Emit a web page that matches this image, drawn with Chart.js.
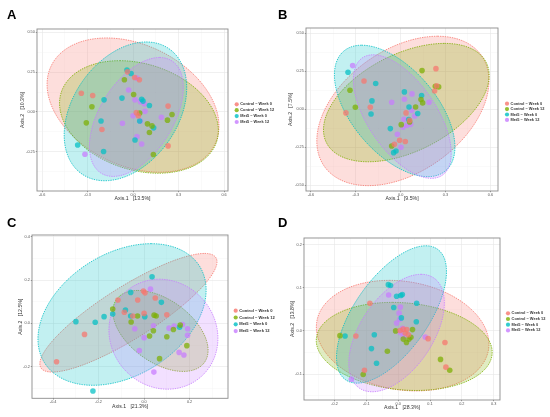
<!DOCTYPE html>
<html>
<head>
<meta charset="utf-8">
<script src="https://cdn.jsdelivr.net/npm/chart.js@4.4.1/dist/chart.umd.min.js"></script>
<style>
  body { margin: 0; background: #fff; }
  #wrap { position: relative; width: 550px; height: 417px; overflow: hidden; background: #fff; }
  canvas { position: absolute; }
  .tag { position: absolute; z-index: 5; font: bold 13px "Liberation Sans", Arial, sans-serif; color: #000; }
</style>
</head>
<body>
<div id="wrap">
  <canvas id="plotA" width="275" height="210" style="left:0;top:0"></canvas>
  <canvas id="plotB" width="275" height="210" style="left:275px;top:0"></canvas>
  <canvas id="plotC" width="275" height="207" style="left:0;top:210px"></canvas>
  <canvas id="plotD" width="275" height="207" style="left:275px;top:210px"></canvas>
  <div class="tag" style="left:7px;top:7px">A</div>
  <div class="tag" style="left:278px;top:7px">B</div>
  <div class="tag" style="left:7px;top:215px">C</div>
  <div class="tag" style="left:278px;top:215px">D</div>
</div>
<script>
// group names (same four groups in every panel)
const GROUPS = ['Control \u2212 Week 0', 'Control \u2212 Week 12', 'Met5 \u2212 Week 0', 'Met5 \u2212 Week 12'];

// ---- panel A ----
const A_CTRL_W0 = [[-0.341,0.117],[-0.266,0.103],[-0.205,-0.109],[-0.037,0.251],[0.011,0.216],[0.042,0.202],[0.022,-0.004],[0.035,-0.023],[0.231,0.037],[0.231,-0.212]];
const A_CTRL_W12 = [[-0.057,0.202],[0.004,0.109],[-0.271,0.033],[-0.308,-0.068],[0.044,-0.006],[0.095,-0.074],[0.125,-0.087],[0.108,-0.128],[0.134,-0.266],[0.227,-0.051],[0.257,-0.016]];
const A_MET_W0 = [[-0.040,0.262],[-0.013,0.241],[-0.191,0.076],[-0.073,0.087],[0.057,0.080],[0.066,0.068],[0.108,0.041],[-0.211,-0.056],[0.136,-0.099],[0.013,-0.175],[-0.194,-0.247],[-0.365,-0.206],[0.044,-0.056]];
const A_MET_W12 = [[0.026,0.212],[-0.029,0.138],[0.013,0.076],[0.048,0.064],[0.075,0.051],[0.079,0.004],[0.0,-0.023],[-0.070,-0.070],[0.026,-0.154],[0.057,-0.200],[0.187,-0.033],[-0.317,-0.264],[0.048,-0.056]];
// ellipse per group: [centre x, centre y, half-axis to the top point (dx, dy), horizontal half-chord (dx, dy)]
const A_ELLIPSES = [
  [0.000, 0.043, -0.175, 0.420, 0.539, 0],
  [0.039, -0.031, -0.127, 0.352, 0.508, 0],
  [-0.050, 0.004, 0.137, 0.434, 0.380, 0],
  [0.022, -0.031, 0.153, 0.372, 0.269, 0]
];
const A_XTICKS = [-0.6, -0.3, 0.0, 0.3, 0.6];
const A_YTICKS = [-0.25, 0.0, 0.25, 0.5];
const A_XTITLE = 'Axis.1   [13.5%]';
const A_YTITLE = 'Axis.2   [10.3%]';

// ---- panel B ----
const B_CTRL_W0 = [[-0.366,-0.024],[-0.245,0.186],[-0.203,0.013],[0.236,0.267],[0.227,0.120],[0.241,0.155],[0.036,-0.024],[-0.042,-0.230],[-0.007,-0.204],[0.031,-0.212],[0.060,-0.072]];
const B_CTRL_W12 = [[-0.339,0.125],[-0.303,0.013],[0.143,0.254],[0.232,0.151],[0.254,0.147],[0.136,0.064],[0.147,0.042],[0.100,0.015],[0.004,-0.101],[0.060,-0.083],[-0.060,-0.241]];
const B_MET_W0 = [[-0.352,0.243],[-0.167,0.169],[-0.192,0.055],[-0.198,-0.031],[0.025,0.114],[0.140,0.090],[0.056,0.015],[0.114,-0.028],[0.054,-0.068],[-0.069,-0.127],[-0.031,-0.274],[-0.047,-0.285]];
const B_MET_W12 = [[-0.321,0.287],[0.025,0.066],[0.076,0.101],[-0.060,0.046],[0.074,-0.007],[0.190,0.046],[0.022,-0.066],[0.094,-0.044],[0.042,-0.105],[0.016,-0.118],[-0.022,-0.164],[0.002,-0.250],[0.067,-0.099]];
const B_ELLIPSES = [
  [0.015, -0.011, 0.232, 0.491, 0.527, 0],
  [0.038, 0.044, 0.255, 0.389, 0.492, 0],
  [-0.040, -0.011, -0.221, 0.432, 0.337, 0],
  [0.011, -0.048, -0.195, 0.406, 0.263, 0]
];
const B_XTICKS = [-0.6, -0.3, 0.0, 0.3, 0.6];
const B_YTICKS = [-0.5, -0.25, 0.0, 0.25, 0.5];
const B_XTITLE = 'Axis.1   [9.5%]';
const B_YTITLE = 'Axis.2   [7.5%]';

// ---- panel C ----
const C_CTRL_W0 = [[-0.385,-0.177],[-0.262,-0.051],[-0.115,0.108],[-0.028,0.108],[-0.003,0.149],[0.004,0.141],[0.049,0.117],[-0.087,0.051],[-0.050,0.034],[0.0,0.046],[0.100,0.040]];
const C_CTRL_W12 = [[-0.138,0.066],[-0.057,0.006],[-0.029,0.034],[0.044,0.038],[0.053,0.034],[0.041,-0.034],[0.024,-0.058],[0.068,-0.163],[0.100,-0.062],[0.129,-0.028],[0.159,-0.008],[0.188,-0.103]];
const C_MET_W0 = [[-0.300,0.008],[-0.215,0.005],[-0.176,0.031],[-0.138,0.043],[-0.082,0.062],[-0.059,0.143],[-0.059,0.034],[0.003,0.031],[0.035,0.215],[0.076,0.097],[0.156,-0.018],[-0.225,-0.312]];
const C_MET_W12 = [[0.028,0.158],[-0.041,-0.025],[0.041,-0.011],[0.0,-0.066],[-0.021,-0.126],[0.110,-0.022],[0.132,-0.012],[0.169,-0.005],[0.191,-0.025],[0.191,-0.055],[0.154,-0.134],[0.175,-0.146],[0.043,-0.225]];
const C_ELLIPSES = [
  [-0.069, 0.049, 0.335, 0.274, 0.199, 0],
  [0.072, -0.035, -0.100, 0.187, 0.184, 0],
  [-0.097, 0.041, 0.128, 0.327, 0.347, 0],
  [0.085, -0.050, -0.018, 0.254, 0.239, 0]
];
const C_XTICKS = [-0.4, -0.2, 0.0, 0.2];
const C_YTICKS = [-0.2, 0.0, 0.2, 0.4];
const C_XTITLE = 'Axis.1   [21.3%]';
const C_YTITLE = 'Axis.2   [12.5%]';

// ---- panel D ----
const D_CTRL_W0 = [[-0.133,-0.012],[-0.089,0.064],[-0.106,-0.091],[0.006,0.001],[0.016,0.004],[0.027,0.003],[0.022,-0.005],[0.032,-0.009],[0.094,-0.018],[0.147,-0.027],[0.150,-0.084]];
const D_CTRL_W12 = [[-0.183,-0.011],[-0.008,0.0],[-0.034,-0.047],[-0.110,-0.101],[0.045,0.003],[0.040,-0.015],[0.034,-0.019],[0.026,-0.027],[0.016,-0.019],[0.133,-0.066],[0.162,-0.091]];
const D_MET_W0 = [[-0.031,0.107],[-0.024,0.105],[-0.005,0.080],[0.008,0.082],[0.013,0.084],[0.058,0.064],[-0.014,0.054],[0.010,0.030],[0.057,0.021],[-0.167,-0.012],[-0.075,-0.009],[-0.084,-0.041],[-0.068,-0.075]];
const D_MET_W12 = [[-0.030,0.083],[0.007,0.055],[0.003,0.041],[0.005,0.027],[-0.005,0.018],[0.014,0.006],[0.007,-0.004],[0.016,-0.013],[0.085,-0.014],[-0.147,-0.112]];
const D_ELLIPSES = [
  [0.014, -0.011, -0.042, 0.128, 0.268, 0],
  [0.019, -0.036, -0.037, 0.102, 0.274, 0],
  [-0.021, 0.038, 0.108, 0.159, 0.135, 0],
  [-0.005, -0.005, 0.077, 0.136, 0.129, 0]
];
const D_XTICKS = [-0.2, -0.1, 0.0, 0.1, 0.2, 0.3];
const D_YTICKS = [-0.1, 0.0, 0.1, 0.2];
const D_XTITLE = 'Axis.1   [28.3%]';
const D_YTITLE = 'Axis.2   [13.8%]';

const HUES = ['248,118,109', '124,174,0', '0,191,196', '199,124,255'];

// ellipses behind the points, frame and legend on top
const ordination = {
  id: 'ordination',
  beforeDatasetsDraw(chart, args, opts) {
    const { ctx, chartArea, scales: { x, y } } = chart;
    ctx.save();
    ctx.beginPath();
    ctx.rect(chartArea.left, chartArea.top, chartArea.width, chartArea.height);
    ctx.clip();
    opts.ellipses.forEach((e, i) => {
      const [cx, cy, ux, uy, vx, vy] = e;
      ctx.beginPath();
      for (let k = 0; k <= 90; k++) {
        const t = k / 90 * 2 * Math.PI;
        const px = x.getPixelForValue(cx + ux * Math.cos(t) + vx * Math.sin(t));
        const py = y.getPixelForValue(cy + uy * Math.cos(t) + vy * Math.sin(t));
        if (k === 0) ctx.moveTo(px, py); else ctx.lineTo(px, py);
      }
      ctx.closePath();
      ctx.fillStyle = 'rgba(' + HUES[i] + ',0.24)';
      ctx.fill();
      ctx.setLineDash([1.4, 1]);
      ctx.lineWidth = 0.8;
      ctx.strokeStyle = 'rgb(' + HUES[i] + ')';
      ctx.stroke();
    });
    ctx.restore();
  },
  afterDraw(chart, args, opts) {
    const { ctx, chartArea } = chart;
    ctx.save();
    ctx.strokeStyle = '#8c8c8c';
    ctx.lineWidth = 0.9;
    ctx.strokeRect(chartArea.left, chartArea.top, chartArea.width, chartArea.height);
    const lg = opts.legend;
    ctx.font = 'bold ' + lg.size + 'px "Liberation Sans", Arial, sans-serif';
    ctx.textBaseline = 'middle';
    GROUPS.forEach((g, i) => {
      const yy = lg.y + i * lg.gap;
      ctx.beginPath();
      ctx.arc(lg.x, yy, 2.1, 0, 2 * Math.PI);
      ctx.fillStyle = 'rgba(' + HUES[i] + ',0.8)';
      ctx.fill();
      ctx.fillStyle = '#333';
      ctx.fillText(g, lg.x + 3.6, yy);
    });
    ctx.restore();
  }
};

function axis(ticks, decimals, title, fit, isX, fontSize) {
  const step = ticks[1] - ticks[0];
  const majors = new Set(ticks.map(v => v.toFixed(4)));
  const isMajor = v => majors.has(Number(v).toFixed(4));
  return {
    type: 'linear',
    min: fit.min,
    max: fit.max,
    afterBuildTicks(scale) {
      const vals = ticks.slice();
      for (let v = ticks[0] - step / 2; v <= ticks[ticks.length - 1] + step; v += step) vals.push(+v.toFixed(6));
      scale.ticks = vals.filter(v => v >= scale.min && v <= scale.max).sort((a, b) => a - b).map(v => ({ value: v }));
    },
    afterFit(scale) {
      if (isX) scale.height = fit.size; else scale.width = fit.size;
    },
    ticks: {
      autoSkip: false,
      maxRotation: 0,
      padding: isX ? 0 : 1,
      color: '#555',
      font: { size: 3.8, family: '"Liberation Sans", Arial, sans-serif' },
      callback: v => isMajor(v) ? Number(v).toFixed(decimals) : ''
    },
    grid: {
      color: c => isMajor(c.tick.value) ? '#e6e6e6' : '#f3f3f3',
      lineWidth: c => isMajor(c.tick.value) ? 0.6 : 0.4,
      tickColor: c => isMajor(c.tick.value) ? '#444' : 'rgba(0,0,0,0)',
      tickLength: 1.2,
      drawTicks: true
    },
    border: { display: false },
    title: {
      display: true,
      text: title,
      color: '#333',
      padding: { top: 0, bottom: 0 },
      font: { size: fontSize, family: '"Liberation Sans", Arial, sans-serif' }
    }
  };
}

function panel(id, groups, ellipses, xt, xd, yt, yd, xTitle, yTitle, frame) {
  const datasets = groups.map((pts, i) => ({
    label: GROUPS[i],
    data: pts.map(p => ({ x: p[0], y: p[1] })),
    backgroundColor: 'rgba(' + HUES[i] + ',0.72)',
    borderWidth: 0,
    pointRadius: frame.r,
    pointHoverRadius: frame.r
  }));
  return new Chart(document.getElementById(id), {
    type: 'scatter',
    data: { datasets: datasets },
    options: {
      responsive: false,
      animation: false,
      events: [],
      layout: { padding: { left: frame.left, top: frame.top, right: frame.right, bottom: frame.bottom } },
      scales: {
        x: axis(xt, xd, xTitle, { min: frame.xmin, max: frame.xmax, size: frame.xh }, true, frame.title),
        y: axis(yt, yd, yTitle, { min: frame.ymin, max: frame.ymax, size: frame.yw }, false, frame.title)
      },
      plugins: {
        legend: { display: false },
        tooltip: { enabled: false },
        ordination: { ellipses: ellipses, legend: frame.legend }
      }
    },
    plugins: [ordination]
  });
}

panel('plotA', [A_CTRL_W0, A_CTRL_W12, A_MET_W0, A_MET_W12], A_ELLIPSES, A_XTICKS, 1, A_YTICKS, 2, A_XTITLE, A_YTITLE,
  { left: 19, top: 29, right: 47, bottom: 8, xh: 11, yw: 18, xmin: -0.633, xmax: 0.626, ymin: -0.494, ymax: 0.519, r: 2.8, title: 5.2,
    legend: { x: 236.7, y: 104.3, gap: 5.9, size: 3.9 } });
panel('plotB', [B_CTRL_W0, B_CTRL_W12, B_MET_W0, B_MET_W12], B_ELLIPSES, B_XTICKS, 1, B_YTICKS, 2, B_XTITLE, B_YTITLE,
  { left: 12, top: 28, right: 52, bottom: 8, xh: 11, yw: 19, xmin: -0.633, xmax: 0.651, ymin: -0.537, ymax: 0.534, r: 2.8, title: 5.2,
    legend: { x: 232, y: 103.7, gap: 5.4, size: 3.9 } });
panel('plotC', [C_CTRL_W0, C_CTRL_W12, C_MET_W0, C_MET_W12], C_ELLIPSES, C_XTICKS, 1, C_YTICKS, 1, C_XTITLE, C_YTITLE,
  { left: 17, top: 25, right: 47, bottom: 7.5, xh: 11.2, yw: 15, xmin: -0.493, xmax: 0.369, ymin: -0.346, ymax: 0.408, r: 2.8, title: 5.2,
    legend: { x: 235.7, y: 100.7, gap: 6.8, size: 4.1 } });
panel('plotD', [D_CTRL_W0, D_CTRL_W12, D_MET_W0, D_MET_W12], D_ELLIPSES, D_XTICKS, 1, D_YTICKS, 1, D_XTITLE, D_YTITLE,
  { left: 14, top: 28, right: 50, bottom: 6, xh: 11, yw: 15, xmin: -0.296, xmax: 0.320, ymin: -0.160, ymax: 0.215, r: 2.8, title: 5.2,
    legend: { x: 233, y: 103.3, gap: 5.7, size: 3.9 } });
</script>
</body>
</html>
